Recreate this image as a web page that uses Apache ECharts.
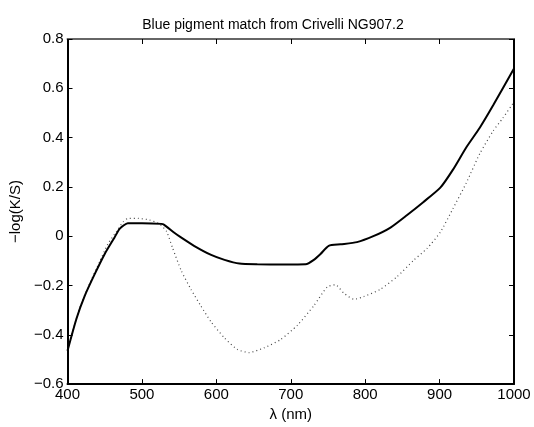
<!DOCTYPE html>
<html>
<head>
<meta charset="utf-8">
<script src="https://cdn.jsdelivr.net/npm/echarts@6/dist/echarts.min.js"></script>
<style>html,body{margin:0;padding:0;background:#fff;}#chart{width:534px;height:427px;}</style>
</head>
<body>
<div id="chart"></div>
<script>
var solidLambda = [400, 412, 423, 437, 450, 463, 470, 481, 500, 526, 530, 544, 553, 570, 593, 611, 631, 655, 690, 720, 731, 740, 751, 767, 789, 811, 834, 856, 878, 901, 918, 936, 954, 972, 1000];
var solidValues = [-0.465, -0.335, -0.243, -0.151, -0.072, -0.006, 0.030, 0.053, 0.053, 0.050, 0.046, 0.013, -0.006, -0.039, -0.076, -0.096, -0.111, -0.114, -0.115, -0.114, -0.096, -0.072, -0.039, -0.033, -0.024, 0.000, 0.035, 0.085, 0.138, 0.197, 0.270, 0.361, 0.440, 0.531, 0.680];
var dottedLambda = [400, 416, 430, 443, 454, 466, 475, 481, 495, 510, 524, 533, 541, 553, 566, 579, 593, 611, 628, 644, 664, 686, 709, 731, 749, 760, 771, 785, 798, 820, 843, 865, 883, 901, 918, 936, 954, 972, 985, 1000];
var dottedValues = [-0.46, -0.295, -0.19, -0.105, -0.033, 0.02, 0.059, 0.072, 0.072, 0.066, 0.049, 0.02, -0.046, -0.141, -0.216, -0.282, -0.348, -0.413, -0.459, -0.472, -0.453, -0.42, -0.361, -0.282, -0.206, -0.197, -0.23, -0.256, -0.245, -0.216, -0.164, -0.098, -0.05, 0.016, 0.112, 0.217, 0.335, 0.427, 0.479, 0.545];
var xTicks = [400, 500, 600, 700, 800, 900, 1000];
var yTicks = [-0.6, -0.4, -0.2, 0, 0.2, 0.4, 0.6, 0.8];

function pairs(xs, ys) { return xs.map(function (x, i) { return [x, ys[i]]; }); }
function fmtY(v) {
  var s = (Math.round(v * 10) / 10).toString();
  if (s === '0') return '0';
  return s.replace('-', '\u2212');
}
function fmtX(v) { return String(Math.round(v)); }
var font = 'Liberation Sans, Arial, Helvetica, sans-serif';
var chart = echarts.init(document.getElementById('chart'));
var tickInside = { show: true, inside: true, length: 5, lineStyle: { color: '#000', width: 1 } };
chart.setOption({
  animation: false,
  backgroundColor: '#fff',
  title: {
    text: 'Blue pigment match from Crivelli NG907.2',
    left: 268, textAlign: 'center', top: 13,
    textStyle: { fontFamily: font, fontSize: 14, fontWeight: 'normal', color: '#000' }
  },
  grid: { left: 66, right: 20, top: 39, bottom: 34 },
  xAxis: [{
    type: 'value', min: 400, max: 1000, interval: 100, position: 'bottom',
    name: '\u03bb (nm)', nameLocation: 'middle', nameGap: 19,
    nameTextStyle: { fontFamily: font, fontSize: 15, color: '#000' },
    axisLine: { show: true, onZero: false, lineStyle: { color: '#000', width: 2 } },
    axisTick: tickInside,
    axisLabel: { fontFamily: font, fontSize: 15, color: '#000', margin: 3, formatter: fmtX },
    splitLine: { show: false }
  }, {
    type: 'value', min: 400, max: 1000, interval: 100, position: 'top',
    axisLine: { show: true, onZero: false, lineStyle: { color: '#666', width: 2 } },
    axisTick: tickInside, axisLabel: { show: false }, splitLine: { show: false }
  }],
  yAxis: [{
    type: 'value', min: -0.6, max: 0.8, interval: 0.2, position: 'left',
    name: '\u2212log(K/S)', nameLocation: 'middle', nameGap: 39,
    nameTextStyle: { fontFamily: font, fontSize: 15, color: '#000' },
    axisLine: { show: true, onZero: false, lineStyle: { color: '#000', width: 2 } },
    axisTick: tickInside,
    axisLabel: { fontFamily: font, fontSize: 15, color: '#000', margin: 4, formatter: fmtY },
    splitLine: { show: false }
  }, {
    type: 'value', min: -0.6, max: 0.8, interval: 0.2, position: 'right',
    axisLine: { show: true, onZero: false, lineStyle: { color: '#000', width: 2 } },
    axisTick: tickInside, axisLabel: { show: false }, splitLine: { show: false }
  }],
  series: [{
    type: 'line', data: pairs(solidLambda, solidValues), showSymbol: false, smooth: 0.2,
    lineStyle: { color: '#000', width: 2 }, z: 3
  }, {
    type: 'line', data: pairs(dottedLambda, dottedValues), showSymbol: false, smooth: 0.2,
    lineStyle: { color: '#444', width: 1.2, type: [1, 3] }, z: 2
  }]
});
</script>
</body>
</html>
